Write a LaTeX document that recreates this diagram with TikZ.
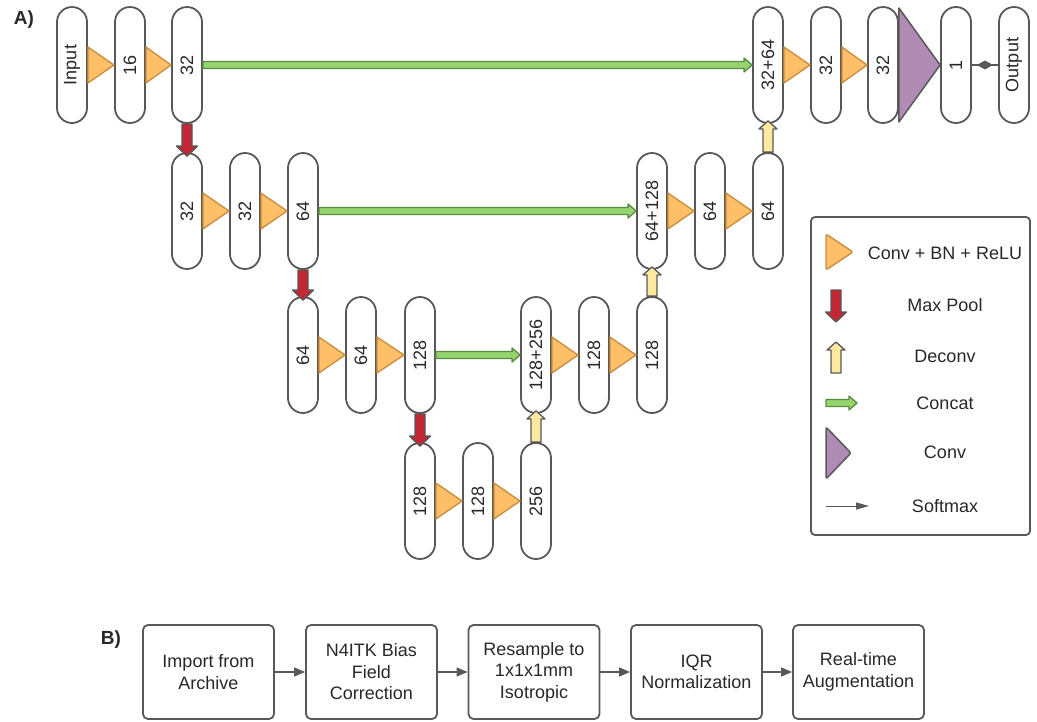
\documentclass[tikz,border=0pt]{standalone}
\usepackage{fontspec}
\setmainfont{Liberation Sans}
\usetikzlibrary{calc,arrows.meta}
\definecolor{ln}{RGB}{88,88,88}
\definecolor{txt}{RGB}{40,40,40}
\definecolor{orf}{RGB}{255,191,105}
\definecolor{ord}{RGB}{200,140,60}
\definecolor{redf}{RGB}{196,38,52}
\definecolor{yelf}{RGB}{255,233,160}
\definecolor{grf}{RGB}{150,212,110}
\definecolor{grd}{RGB}{90,140,70}
\definecolor{purf}{RGB}{176,140,180}
\newcommand\fs{\fontsize{18}{21.5}\selectfont}
\newcommand\fatarr[6]{%
 \coordinate (fatH) at ($(#3)!#6!(#2)$);
 \draw[#1] ($(#2)!#4!90:(#3)$) -- ($(fatH)!#4!-90:(#2)$) -- ($(fatH)!#5!-90:(#2)$) -- (#3) -- ($(fatH)!#5!90:(#2)$) -- ($(fatH)!#4!90:(#2)$) -- ($(#2)!#4!-90:(#3)$) -- cycle;}
\newcommand\convtri[2]{\draw[ctri] ($(#1.east)+(0,-18)$) -- (#2.west) -- ($(#1.east)+(0,18)$) -- cycle;}
\tikzset{
 capsule/.style={draw=ln, line width=1.8pt, fill=white, rounded corners=15pt, minimum width=30pt, minimum height=116pt, inner sep=0pt, font=\fs, text=txt},
 ctri/.style={draw=ord, fill=orf, line width=1.3pt, line join=round},
 ptri/.style={draw=ln, fill=purf, line width=1.5pt, line join=round},
 redarr/.style={draw=ln, fill=redf, line width=1.3pt, line join=round},
 yelarr/.style={draw=ln, fill=yelf, line width=1.3pt, line join=round},
 grarr/.style={draw=grd, fill=grf, line width=1.3pt, line join=round},
 lbl/.style={font=\fs, text=txt},
 pbox/.style={draw=ln, line width=1.8pt, rounded corners=5pt, minimum width=131pt, minimum height=94pt, align=center, font=\fs, text=txt, inner sep=2pt},
 garr/.style={draw=ln, line width=1.3pt, -{Triangle[length=11pt,width=9pt]}},
}
\begin{document}
\begin{tikzpicture}[x=1pt,y=-1pt]
\useasboundingbox (0,0) rectangle (1037,721);
\node[font=\bfseries\fontsize{19}{22}\selectfont, text=txt] (lA) at (24,20) {A)};
\node[font=\bfseries\fontsize{19}{22}\selectfont, text=txt] (lB) at (111,640) {B)};
% row 1
\node[capsule] (in) at (72,65) {\rotatebox{90}{Input}};
\node[capsule] (c16) at (130,65) {\rotatebox{90}{16}};
\node[capsule] (c32a) at (187,65) {\rotatebox{90}{32}};
\node[capsule] (c3264) at (768,65) {\rotatebox{90}{32+64}};
\node[capsule] (c32b) at (826,65) {\rotatebox{90}{32}};
\node[capsule] (c32c) at (883,65) {\rotatebox{90}{32}};
\node[capsule] (one) at (956,65) {\rotatebox{90}{1}};
\node[capsule] (out) at (1014,65) {\rotatebox{90}{Output}};
% row 2
\node[capsule] (d32a) at (187,211) {\rotatebox{90}{32}};
\node[capsule] (d32b) at (245,211) {\rotatebox{90}{32}};
\node[capsule] (d64a) at (303,211) {\rotatebox{90}{64}};
\node[capsule] (d64128) at (652,211) {\rotatebox{90}{64+128}};
\node[capsule] (d64b) at (710,211) {\rotatebox{90}{64}};
\node[capsule] (d64c) at (768,211) {\rotatebox{90}{64}};
% row 3
\node[capsule] (e64a) at (303,355) {\rotatebox{90}{64}};
\node[capsule] (e64b) at (361,355) {\rotatebox{90}{64}};
\node[capsule] (e128a) at (420,355) {\rotatebox{90}{128}};
\node[capsule] (e128256) at (536,355) {\rotatebox{90}{128+256}};
\node[capsule] (e128b) at (594,355) {\rotatebox{90}{128}};
\node[capsule] (e128c) at (652,355) {\rotatebox{90}{128}};
% row 4
\node[capsule] (f128a) at (420,501) {\rotatebox{90}{128}};
\node[capsule] (f128b) at (478,501) {\rotatebox{90}{128}};
\node[capsule] (f256) at (536,501) {\rotatebox{90}{256}};
% conv triangles
\convtri{in}{c16}
\convtri{c16}{c32a}
\convtri{c3264}{c32b}
\convtri{c32b}{c32c}
\convtri{d32a}{d32b}
\convtri{d32b}{d64a}
\convtri{d64128}{d64b}
\convtri{d64b}{d64c}
\convtri{e64a}{e64b}
\convtri{e64b}{e128a}
\convtri{e128256}{e128b}
\convtri{e128b}{e128c}
\convtri{f128a}{f128b}
\convtri{f128b}{f256}
% final conv
\draw[ptri] ($(c32c.east)+(0,-57)$) -- (one.west) -- ($(c32c.east)+(0,57)$) -- cycle;
% softmax connector
\draw[draw=ln, line width=1.3pt] (one) -- (out);
\coordinate (dm) at ($(one.east)!0.5!(out.west)$);
\fill[ln] ($(dm)+(-8,0)$) -- ($(dm)+(0,-4.5)$) -- ($(dm)+(8,0)$) -- ($(dm)+(0,4.5)$) -- cycle;
% concat
\fatarr{grarr}{c32a.east}{c3264.west}{3.5pt}{7pt}{8pt}
\fatarr{grarr}{d64a.east}{d64128.west}{3.5pt}{7pt}{8pt}
\fatarr{grarr}{e128a.east}{e128256.west}{3.5pt}{7pt}{8pt}
% max pool
\fatarr{redarr}{c32a.south}{$(d32a.north)+(0,4)$}{5pt}{10.5pt}{10pt}
\fatarr{redarr}{d64a.south}{$(e64a.north)+(0,4)$}{5pt}{10.5pt}{10pt}
\fatarr{redarr}{e128a.south}{$(f128a.north)+(0,4)$}{5pt}{10.5pt}{10pt}
% deconv
\fatarr{yelarr}{f256.north}{$(e128256.south)+(0,-3)$}{5pt}{9pt}{8pt}
\fatarr{yelarr}{e128c.north}{$(d64128.south)+(0,-3)$}{5pt}{9pt}{8pt}
\fatarr{yelarr}{d64c.north}{$(c3264.south)+(0,-3)$}{5pt}{9pt}{8pt}
% legend
\draw[draw=ln, line width=1.8pt, rounded corners=4pt] (811,217) rectangle (1030,535);
\draw[ctri, rounded corners=2pt] (826,234) -- (853,252) -- (826,270) -- cycle;
\node[lbl] (t1) at (945,253) {Conv + BN + ReLU};
\coordinate (mpA) at (836,290); \coordinate (mpB) at (836,322);
\fatarr{redarr}{mpA}{mpB}{5pt}{10.5pt}{10pt}
\node[lbl] (t2) at (945,305) {Max Pool};
\coordinate (dcA) at (836,373); \coordinate (dcB) at (836,342);
\fatarr{yelarr}{dcA}{dcB}{5pt}{9pt}{8pt}
\node[lbl] (t3) at (945,356) {Deconv};
\coordinate (ccA) at (826,403); \coordinate (ccB) at (857,403);
\fatarr{grarr}{ccA}{ccB}{3.5pt}{7pt}{8pt}
\node[lbl] (t4) at (945,403) {Concat};
\draw[ptri, rounded corners=2pt] (826,427) -- (851,453) -- (826,479) -- cycle;
\node[lbl] (t5) at (945,452) {Conv};
\coordinate (smA) at (826,506); \coordinate (smB) at (869,506);
\draw[draw=ln, line width=1pt, -{Triangle[length=13pt,width=7pt]}] (smA) -- (smB);
\node[lbl] (t6) at (945,506) {Softmax};
% pipeline B
\node[pbox] (b1) at (208.5,672) {Import from\\Archive};
\node[pbox] (b2) at (371.5,672) {N4ITK Bias\\Field\\Correction};
\node[pbox] (b3) at (534,672) {Resample to\\1x1x1mm\\Isotropic};
\node[pbox] (b4) at (696.5,672) {IQR\\Normalization};
\node[pbox] (b5) at (858.5,672) {Real-time\\Augmentation};
\draw[garr] (b1) -- (b2);
\draw[garr] (b2) -- (b3);
\draw[garr] (b3) -- (b4);
\draw[garr] (b4) -- (b5);
\end{tikzpicture}
\end{document}
